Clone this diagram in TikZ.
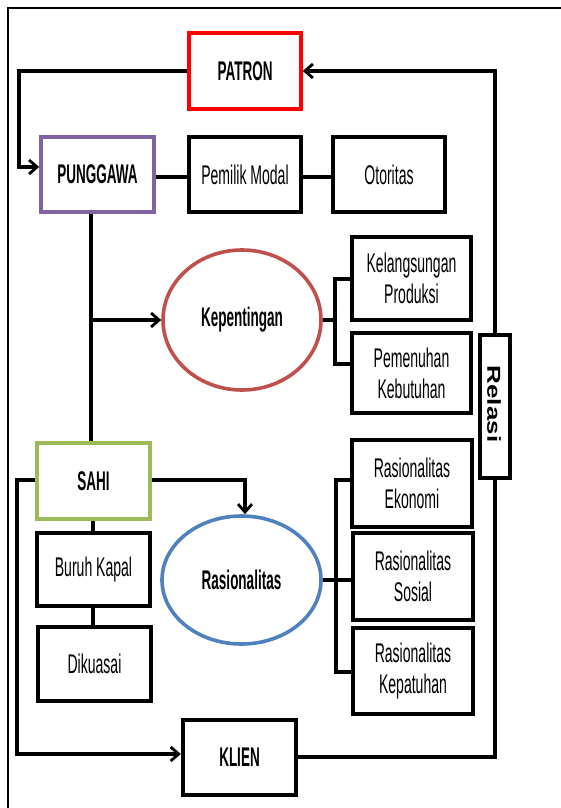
\documentclass[tikz,border=0pt]{standalone}
\usepackage{fontspec}
\setmainfont[FakeStretch=0.52]{Liberation Sans}
\newfontfamily\hdfont[FakeStretch=0.5]{Liberation Sans}
\newfontfamily\relfont{Liberation Sans}
\usetikzlibrary{arrows.meta,shapes.geometric,calc}
\definecolor{patronred}{RGB}{255,0,0}
\definecolor{pungpurple}{RGB}{128,100,162}
\definecolor{sahigreen}{RGB}{155,187,89}
\definecolor{kepred}{RGB}{192,80,77}
\definecolor{rasblue}{RGB}{79,129,189}
\tikzset{
  blk/.style={draw=black, line width=4.4pt, fill=white, rectangle, inner sep=0pt,
    font=\fontsize{27}{31}\selectfont, align=center},
  hd/.style={draw, line width=3.6pt, fill=white, rectangle, inner sep=0pt,
    font=\hdfont\bfseries\fontsize{27}{31}\selectfont, align=center},
  ell/.style={draw, line width=3.6pt, fill=white, ellipse, inner sep=0pt,
    font=\hdfont\bfseries\fontsize{27}{31}\selectfont},
  conn/.style={draw=black, line width=3.2pt},
  arr/.style={conn, -{Straight Barb[length=8pt,width=14pt,line width=2.8pt]}},
}
\begin{document}
\begin{tikzpicture}[x=1pt,y=-1pt]
\useasboundingbox (0,0) rectangle (561,808);
\fill[white] (0,0) rectangle (561,808);
\draw[line width=2pt] (8,808) -- (8,8) -- (561,8);

% nodes
\node[hd, draw=patronred, minimum width=112pt, minimum height=76pt] (patron) at (245,71) {PATRON};
\node[hd, draw=pungpurple, minimum width=113pt, minimum height=75pt] (pung) at (97.5,174.5) {PUNGGAWA};
\node[blk, minimum width=112pt, minimum height=75pt] (modal) at (245,174.5) {Pemilik Modal};
\node[blk, minimum width=112pt, minimum height=75pt] (otor) at (389,174.5) {Otoritas};
\node[ell, draw=kepred, minimum width=158pt, minimum height=140pt] (kep) at (242,320) {Kepentingan};
\node[blk, minimum width=119pt, minimum height=83pt] (kel) at (411.5,278.5) {Kelangsungan\\Produksi};
\node[blk, minimum width=119pt, minimum height=80pt] (pem) at (411.5,373) {Pemenuhan\\Kebutuhan};
\node[draw=black, line width=4.4pt, fill=white, minimum width=30pt, minimum height=143pt, inner sep=0pt] (rel) at (495,406.5) {};
\node[rotate=-90, inner sep=0pt, font=\relfont\bfseries\fontsize{26}{28}\selectfont] (reltxt) at (494,404) {\scalebox{1}[0.72]{Relasi}};
\node[hd, draw=sahigreen, minimum width=113pt, minimum height=76pt] (sahi) at (93.5,481) {SAHI};
\node[blk, minimum width=113pt, minimum height=73pt] (buruh) at (93.5,569.5) {Buruh Kapal};
\node[blk, minimum width=113pt, minimum height=74pt] (diku) at (94.5,664) {Dikuasai};
\node[ell, draw=rasblue, minimum width=159pt, minimum height=128pt] (ras) at (241.5,580) {Rasionalitas};
\node[blk, minimum width=120pt, minimum height=87pt] (eko) at (412,483.5) {Rasionalitas\\Ekonomi};
\node[blk, minimum width=120pt, minimum height=87pt] (sos) at (413,576.5) {Rasionalitas\\Sosial};
\node[blk, minimum width=120pt, minimum height=86pt] (kpt) at (413,671) {Rasionalitas\\Kepatuhan};
\node[blk, minimum width=113pt, minimum height=75pt] (klien) at (239.5,757.5) {\hdfont\bfseries KLIEN};

% connectors
\coordinate (pl) at (19,71);
\coordinate (pd) at (19,167);
\draw[arr] (patron.west |- pl) -- (pl) -- (pd) -- (pd -| pung.west);
\coordinate (rt) at (495,71);
\draw[arr] (rel.north) -- (rt) -- (rt -| patron.east);
\coordinate (mr) at (0,177);
\draw[conn] (pung.east |- mr) -- (modal.west |- mr);
\draw[conn] (modal.east |- mr) -- (otor.west |- mr);
\coordinate (pv) at (91,320);
\draw[conn] (pv |- pung.south) -- (pv |- sahi.north);
\draw[arr] (pv) -- (pv -| kep.west);
\coordinate (kb) at (335,320);
\coordinate (kt) at (335,279);
\coordinate (kd) at (335,364);
\draw[conn] (kep.east) -- (kb);
\draw[conn] (kt -| kel.west) -- (kt) -- (kd) -- (kd -| pem.west);
\coordinate (sr) at (245,480);
\draw[arr] (sahi.east |- sr) -- (sr) -- (sr |- ras.north);
\coordinate (rv) at (336,480);
\coordinate (rm) at (336,580);
\coordinate (rb) at (336,672);
\draw[conn] (ras.east) -- (rm);
\draw[conn] (rv -| eko.west) -- (rv) -- (rb) -- (rb -| kpt.west);
\draw[conn] (rm) -- (rm -| sos.west);
\coordinate (bx) at (93,0);
\draw[conn] (bx |- sahi.south) -- (bx |- buruh.north);
\draw[conn] (bx |- buruh.south) -- (bx |- diku.north);
\coordinate (sl) at (17,480);
\coordinate (sb) at (17,754);
\draw[arr] (sahi.west |- sl) -- (sl) -- (sb) -- (sb -| klien.west);
\coordinate (kr) at (495,757);
\draw[conn] (klien.east |- kr) -- (kr) -- (rel.south);
\end{tikzpicture}
\end{document}
